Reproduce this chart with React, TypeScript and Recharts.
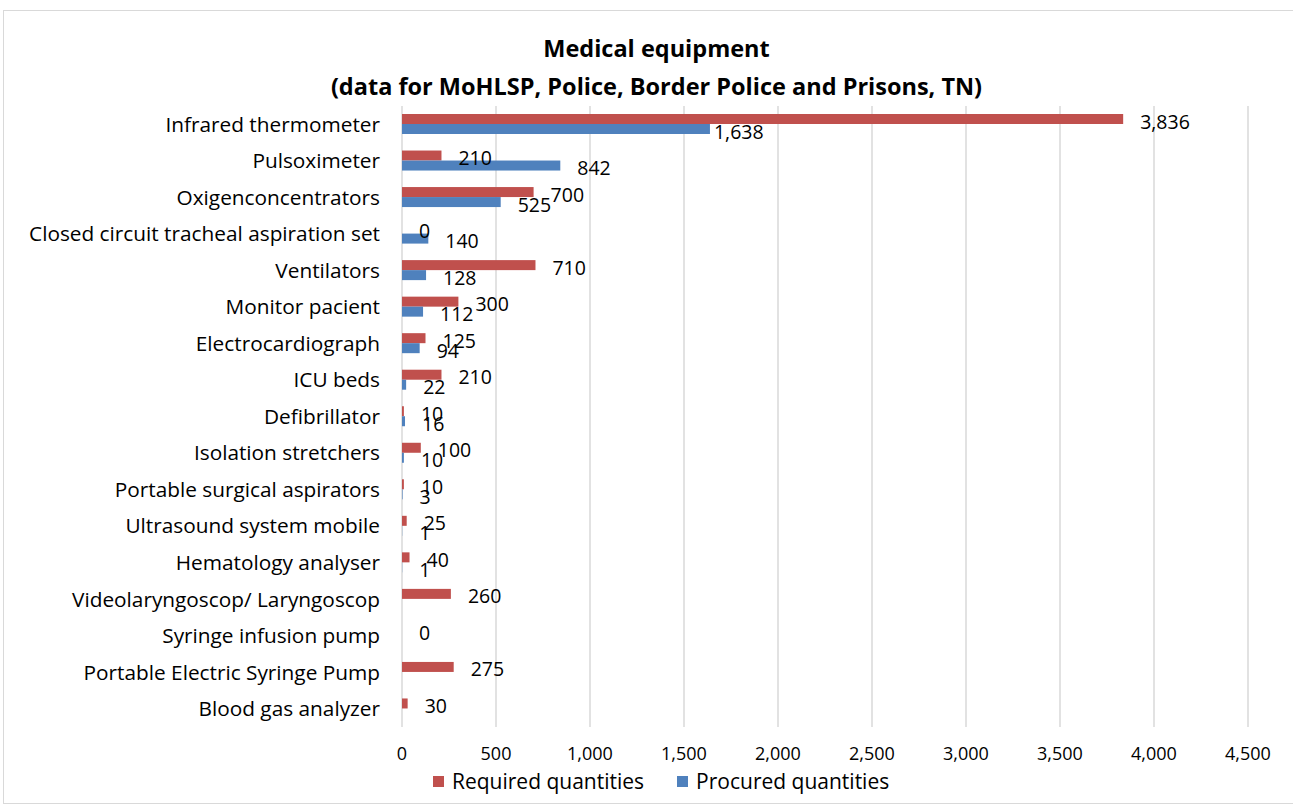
import { Bar, BarChart, CartesianGrid, XAxis, YAxis } from "recharts"

const categories = [
  "Infrared thermometer",
  "Pulsoximeter",
  "Oxigenconcentrators",
  "Closed circuit tracheal aspiration set",
  "Ventilators",
  "Monitor pacient",
  "Electrocardiograph",
  "ICU beds",
  "Defibrillator",
  "Isolation stretchers",
  "Portable surgical aspirators",
  "Ultrasound system mobile",
  "Hematology analyser",
  "Videolaryngoscop/ Laryngoscop",
  "Syringe infusion pump",
  "Portable Electric Syringe Pump",
  "Blood gas analyzer",
]

const required = [3836, 210, 700, 0, 710, 300, 125, 210, 10, 100, 10, 25, 40, 260, 0, 275, 30]
const procured = [1638, 842, 525, 140, 128, 112, 94, 22, 16, 10, 3, 1, 1, null, null, null, null]

const xTicks = [0, 500, 1000, 1500, 2000, 2500, 3000, 3500, 4000, 4500]

const RED = "#C0504D"
const BLUE = "#4F81BD"
const FONT = "'Open Sans', sans-serif"
const BAR = 10

const data = categories.map((name, i) => ({
  name,
  required: required[i],
  procured: procured[i],
}))

const fmt = (v: number) => v.toLocaleString("en-US")

function ValueText({ x, y, value }: { x: number; y: number; value: number }) {
  return (
    <text x={x} y={y} dominantBaseline="central" fontSize={19.5} fontFamily={FONT} fill="#000">
      {fmt(value)}
    </text>
  )
}

// red bars: label only drawn here when there is no blue bar to draw it on top
function RequiredShape(props: any) {
  const { x, y, width, height, payload } = props
  const showLabel = payload && (payload.procured === null || payload.procured === undefined)
  return (
    <g>
      {width > 0 && <rect x={x} y={y} width={width} height={height} fill={RED} />}
      {showLabel && <ValueText x={x + Math.max(width, 0) + 17} y={y + height / 2 + 2} value={payload.required} />}
    </g>
  )
}

// blue bars: draws both value labels so they sit above every bar
function ProcuredShape(props: any) {
  const { x, y, width, height, payload } = props
  if (!payload || payload.procured === null || payload.procured === undefined) return <g />
  const scale = width / payload.procured
  const redEnd = x + payload.required * scale
  // the long first row gets its blue label tucked right against the bar, as in the source
  const gap = payload.procured > 1000 ? 4 : 17
  return (
    <g>
      {width > 0 && <rect x={x} y={y} width={width} height={height} fill={BLUE} />}
      <ValueText x={redEnd + 17} y={y - BAR + height / 2 + 2} value={payload.required} />
      <ValueText x={x + Math.max(width, 0) + gap} y={y + height / 2 + 2} value={payload.procured} />
    </g>
  )
}

function LegendItems() {
  const item = (color: string, label: string) => (
    <div style={{ display: "flex", alignItems: "center", marginRight: 33 }}>
      <span style={{ width: 11, height: 11, background: color, marginRight: 8, display: "inline-block" }} />
      <span>{label}</span>
    </div>
  )
  return (
    <div
      style={{
        position: "absolute",
        left: 433,
        top: 767,
        display: "flex",
        fontFamily: FONT,
        fontSize: 21,
        lineHeight: "28px",
        color: "#000",
      }}
    >
      {item(RED, "Required quantities")}
      {item(BLUE, "Procured quantities")}
    </div>
  )
}

export default function App() {
  return (
    <div style={{ position: "absolute", left: 0, top: 0, width: 1293, height: 810, background: "#fff", overflow: "hidden" }}>
      <div
        style={{
          position: "absolute",
          left: 3,
          top: 10,
          width: 1300,
          height: 792,
          border: "1.5px solid #d9d9d9",
        }}
      />
      <div
        style={{
          position: "absolute",
          left: 10,
          top: 29,
          width: 1293,
          textAlign: "center",
          fontFamily: FONT,
          fontWeight: 700,
          fontSize: 23.5,
          lineHeight: "38px",
          color: "#000",
        }}
      >
        Medical equipment
        <br />
        (data for MoHLSP, Police, Border Police and Prisons, TN)
      </div>
      <div style={{ position: "absolute", left: 0, top: 0 }}>
        <BarChart
          width={1293}
          height={810}
          data={data}
          layout="vertical"
          margin={{ top: 106, right: 45, bottom: 53, left: 0 }}
          barGap={0}
          barSize={BAR}
        >
          <CartesianGrid horizontal={false} stroke="#d9d9d9" strokeWidth={1.5} />
          <XAxis
            type="number"
            domain={[0, 4500]}
            ticks={xTicks}
            axisLine={false}
            tickLine={false}
            tickMargin={14}
            tick={{ fontSize: 18, fontFamily: FONT, fill: "#000" }}
            tickFormatter={fmt}
            height={30}
          />
          <YAxis
            type="category"
            dataKey="name"
            width={402}
            axisLine={false}
            tickLine={false}
            tickMargin={16}
            interval={0}
            tick={{ fontSize: 20.8, fontFamily: FONT, fill: "#000" }}
          />
          <Bar dataKey="required" fill={RED} isAnimationActive={false} shape={RequiredShape} />
          <Bar dataKey="procured" fill={BLUE} isAnimationActive={false} shape={ProcuredShape} />
        </BarChart>
      </div>
      <LegendItems />
    </div>
  )
}
